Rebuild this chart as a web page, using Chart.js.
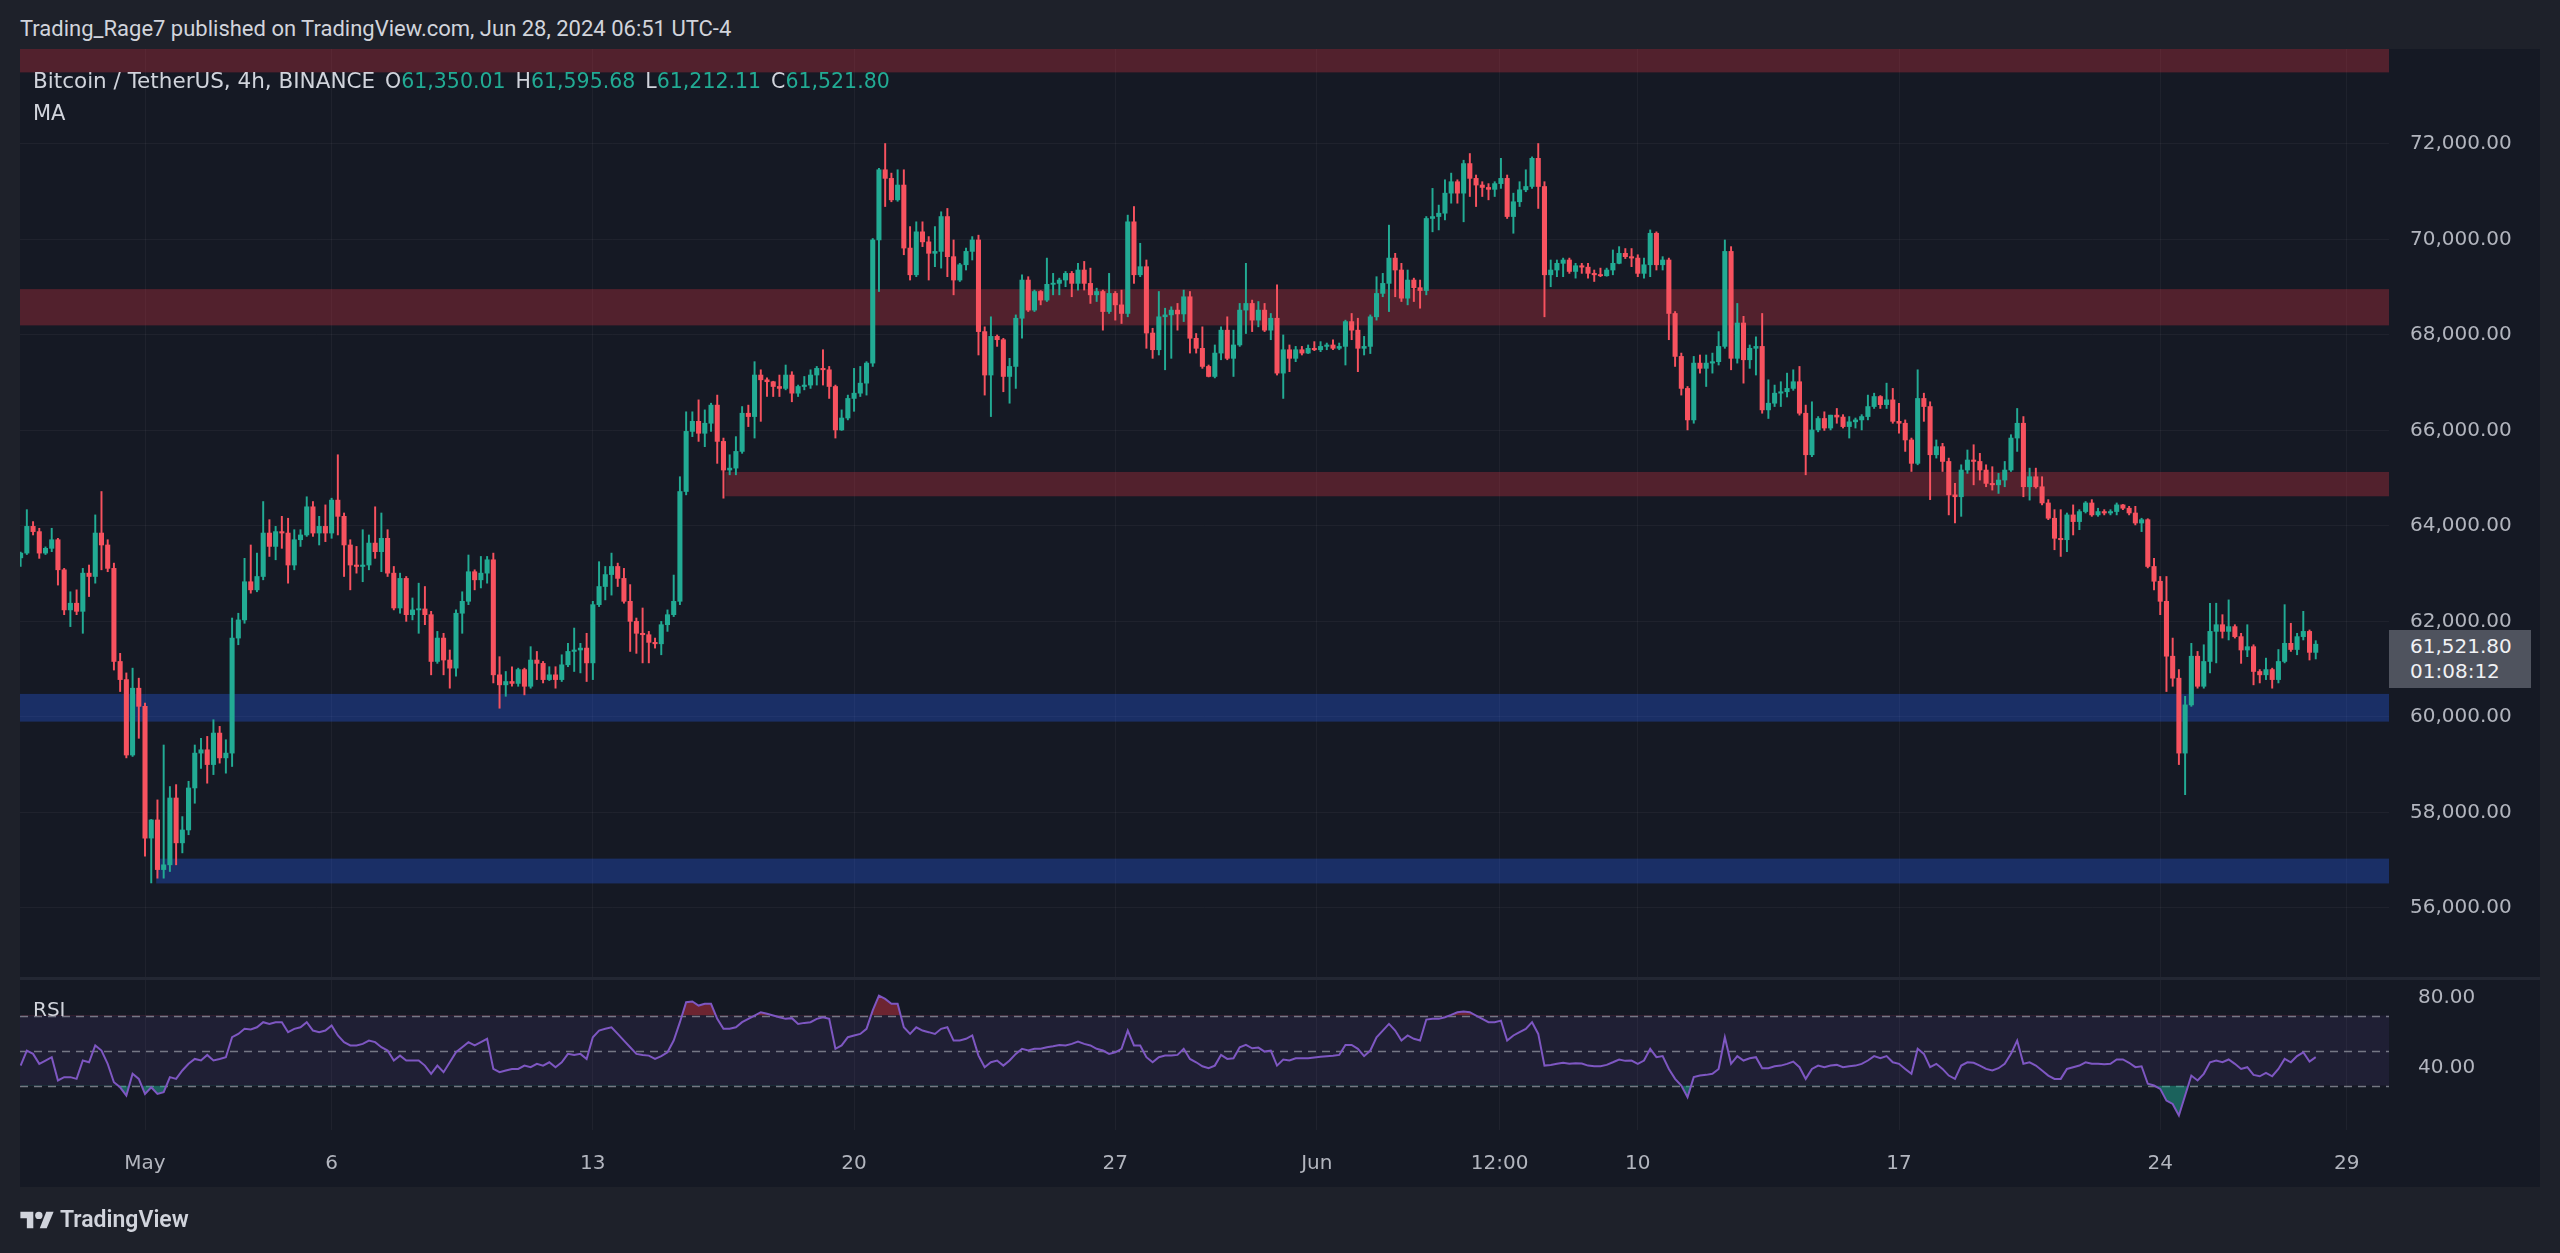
<!DOCTYPE html>
<html>
<head>
<meta charset="utf-8">
<title>Bitcoin / TetherUS 4h</title>
<script src="https://cdn.jsdelivr.net/npm/chart.js@4.4.1/dist/chart.umd.min.js"></script>
<style>
  html, body { margin: 0; padding: 0; }
  body { width: 2560px; height: 1253px; background: #1e212a; position: relative; overflow: hidden;
         font-family: Roboto, "Noto Sans", sans-serif; color: #d1d4dc; }
  #header { position: absolute; left: 20px; top: 15px; font-size: 22px; line-height: 28px; }
  #panel { position: absolute; left: 20px; top: 49px; width: 2520px; height: 1138px; background: #151924; }
  #sep { position: absolute; left: 20px; top: 977px; width: 2520px; height: 3px; background: #232733; }
  #priceWrap { position: absolute; left: 20px; top: 49px; width: 2520px; height: 928px; }
  #rsiWrap { position: absolute; left: 20px; top: 980px; width: 2520px; height: 206px; }
  .over { position: absolute; z-index: 3; white-space: pre; }
  #legend, #ma, #rsiLabel { font-family: "DejaVu Sans", sans-serif; }
  #legend { left: 33px; top: 68px; font-size: 21.5px; line-height: 26px; }
  #legend .k, #legend .v { font-size: 20.5px; }
  #legend .v { color: #22ab94; }
  #legend .k { margin-left: 10px; }
  #ma { left: 33px; top: 100px; font-size: 21px; line-height: 26px; }
  #rsiLabel { left: 33px; top: 997px; font-size: 20px; line-height: 24px; }
  #lastPrice { left: 2389px; top: 630px; width: 142px; height: 58px; background: #4f535e; color: #f0f1f4;
               font-family: "DejaVu Sans", sans-serif; font-size: 20px; line-height: 25px;
               box-sizing: border-box; padding: 4px 0 0 21px; }
  #logo { left: 20px; top: 1206px; font-size: 23px; line-height: 28px; font-weight: 600; display: flex; align-items: center; }
  #logo svg { margin-right: 6px; }
</style>
</head>
<body>
<div id="header" class="over">Trading_Rage7 published on TradingView.com, Jun 28, 2024 06:51 UTC-4</div>
<div id="panel"></div>
<div id="priceWrap"><canvas id="priceChart"></canvas></div>
<div id="sep"></div>
<div id="rsiWrap"><canvas id="rsiChart"></canvas></div>
<div id="legend" class="over">Bitcoin / TetherUS, 4h, BINANCE<span class="k">O</span><span class="v">61,350.01</span><span class="k">H</span><span class="v">61,595.68</span><span class="k">L</span><span class="v">61,212.11</span><span class="k">C</span><span class="v">61,521.80</span></div>
<div id="ma" class="over">MA</div>
<div id="rsiLabel" class="over">RSI</div>
<div id="lastPrice" class="over">61,521.80<br>01:08:12</div>
<div id="logo" class="over"><svg width="34" height="24" viewBox="0 0 36 26"><path d="M14 22H7V11H0V4h14z" fill="#d1d4dc"/><circle cx="20" cy="8" r="4" fill="#d1d4dc"/><path d="M28 4h8l-7.5 18H21z" fill="#d1d4dc"/></svg>TradingView</div>

<script>
// 4h candles, first one Apr 27 16:00 (time in days from May 1 00:00, UTC-4)
const firstCandleDay = -10 / 3;

const opens = [
  63330,63430,63990,63880,63430,63530,63710,63080,62240,62380,
  62210,63010,62940,63850,63600,63110,61160,60780,59200,60600,
  60220,57460,57840,56800,56900,58300,57360,57630,58510,59240,
  59310,59000,59660,59140,59240,61650,62030,62830,62660,62940,
  63850,63570,63880,63850,63180,63710,63810,64400,63850,63990,
  63850,64540,64200,63600,63180,63150,63180,63640,63460,63740,
  63010,62280,62900,62140,62240,62260,62140,61160,61650,61190,
  61020,62170,62420,63040,62870,63010,63290,60880,60670,60740,
  60700,60990,60640,61190,61120,60780,60880,60780,61090,61370,
  61400,61440,61130,62350,62730,62980,63150,62900,62420,62000,
  61750,61720,61560,61530,61930,62140,62420,64720,65980,66190,
  65940,66150,66530,65770,65170,65210,65560,66360,66290,67160,
  67060,67020,66920,66880,67160,66780,66920,66950,67160,67300,
  67270,66920,66010,66260,66670,66780,66990,67410,69990,71460,
  71280,70830,71140,69820,69260,70160,69950,69710,69750,70480,
  69640,69150,69470,69750,69990,68070,67160,67970,67900,67130,
  67340,68350,69150,68520,68910,68730,69060,69080,69150,69290,
  69080,69360,69080,68840,68910,68490,68870,68630,68450,70370,
  69260,69430,68040,67690,68380,68420,68520,68440,68800,67930,
  67720,67340,67130,67620,68100,67510,67790,68520,68660,68310,
  68520,68100,68350,67200,67690,67510,67690,67620,67720,67690,
  67760,67790,67720,67760,68280,68100,67720,67760,68380,68870,
  69080,69610,69360,68770,69150,68990,68930,70440,70480,70550,
  70970,71210,70970,71590,71280,71140,71090,71050,71170,71280,
  70480,70790,71040,71110,71700,71110,69260,69360,69500,69570,
  69330,69450,69420,69290,69260,69240,69360,69500,69710,69640,
  69610,69290,69470,70130,69470,69570,68450,67550,66880,66220,
  67410,67300,67410,67440,67760,69750,67510,68250,67480,67720,
  67760,66430,66570,66780,66810,66880,67020,66360,65490,66010,
  66250,66050,66320,66280,66080,66180,66220,66290,66500,66710,
  66540,66640,66190,66150,65800,65310,66670,66500,65490,65660,
  65350,64650,64610,65170,65380,65350,65170,64890,64860,64960,
  65170,65840,66150,64820,65030,64820,64480,64160,63740,63710,
  64230,64090,64300,64480,64230,64300,64270,64300,64440,64370,
  64270,64060,64130,63150,62840,62420,61270,60810,59240,60250,
  61270,60640,61160,61790,61930,61790,61890,61680,61400,61470,
  60950,60880,60990,60780,61160,61540,61410,61680,61790,61350.01
];

const highs = [
  63450,64340,64090,63950,63560,63950,63740,63110,62620,62660,
  63110,63180,64230,64720,63710,63220,61330,60920,61020,60810,
  60290,57850,58260,59410,58540,58580,57910,58650,59410,59550,
  59590,59940,59800,59520,62070,62170,63320,63600,63430,64510,
  64130,63990,64200,64160,63920,63920,64610,64510,64200,64440,
  64580,65490,64270,63710,63570,63920,63810,64400,64270,63920,
  63150,63010,62940,62490,62800,62730,62210,61790,61750,61400,
  62240,62620,63390,63080,63360,63360,63430,61260,60950,61050,
  61020,61020,61470,61370,61160,61050,61050,61300,61540,61860,
  61540,61750,62420,63250,63150,63430,63220,63110,62770,62070,
  62280,61790,61650,62000,62240,62970,65030,66390,66390,66640,
  66430,66570,66740,65840,65490,65870,66500,66530,67440,67270,
  67100,67030,67160,67370,67230,66950,67130,67270,67340,67690,
  67340,66950,66430,66740,67300,67340,67440,70020,71490,72010,
  71390,71460,71460,70270,70370,70370,70060,70270,70580,70650,
  69990,69500,69820,70060,70090,68170,68380,68000,67930,67510,
  68420,69260,69220,68940,68930,69610,69290,69190,69330,69330,
  69500,69540,69400,68980,68940,69290,68910,68940,70510,70690,
  69920,69570,68140,68910,68560,68590,68660,68940,68910,68030,
  68170,67370,67790,68170,68380,68100,68660,69500,68730,68700,
  68660,68450,69050,68000,67790,67760,67760,67790,67860,67860,
  67830,67900,67830,68310,68450,68350,67970,68420,69220,69290,
  70300,69710,69500,69360,69190,69150,70480,71070,70720,71250,
  71390,71250,71660,71800,71350,71210,71170,71210,71700,71350,
  70970,71210,71460,71730,72010,71210,69570,69570,69610,69610,
  69500,69500,69500,69360,69400,69400,69780,69850,69810,69810,
  69680,69610,70200,70160,69640,69610,68490,67620,66920,67550,
  67580,67580,67620,68070,69990,69850,68660,68390,67790,67960,
  68450,67060,66950,67020,67200,67270,67340,66530,66600,66290,
  66390,66320,66460,66330,66290,66260,66330,66740,66780,66730,
  66990,66880,66570,66220,65840,67270,66780,66600,65800,65730,
  65420,64890,65280,65590,65700,65520,65280,65240,65100,65350,
  65910,66460,66290,65210,65210,65030,64550,64340,64340,64270,
  64440,64340,64510,64550,64370,64340,64340,64480,64450,64410,
  64410,64160,64150,63320,62940,62940,61650,60990,60430,61540,
  61370,61510,62380,62380,62140,62450,61930,61750,61930,61510,
  60990,61230,61020,61410,62350,61960,61750,62210,61820,61595.68
];

const lows = [
  63150,63400,63810,63320,63400,63460,62760,62140,61890,62140,
  61750,62520,62800,63080,63040,60980,60530,59140,59170,59550,
  57080,56520,56620,56620,56760,56900,57150,57530,58190,58920,
  58610,58790,59030,58820,58960,61510,61960,62590,62620,62870,
  63360,63290,63530,62800,63080,63570,63780,63780,63600,63670,
  63740,63810,62940,62660,63010,62830,63080,63320,63040,62940,
  62240,62170,62000,62030,61750,61930,60880,61120,60880,60600,
  60850,61750,62350,62660,62700,62800,60710,60180,60430,60640,
  60640,60460,60600,60780,60710,60760,60600,60740,61050,60950,
  60920,60740,60780,62310,62450,62550,62730,62380,61370,61330,
  61130,61130,61440,61300,61790,62100,62350,64650,65870,65770,
  65660,65980,65310,64580,65070,65070,65520,66080,65840,66190,
  66710,66710,66710,66850,66600,66710,66850,66880,66950,66950,
  66670,65840,66000,66220,66400,66710,66740,67340,68910,70690,
  70790,70800,69680,69150,69220,69850,69150,69430,69400,69220,
  68840,69120,69360,69570,67580,66740,66290,67760,66810,66570,
  66880,67930,68490,68490,68630,68700,68840,68840,69010,68800,
  68940,68940,68660,68700,68100,68450,68310,68240,68380,69080,
  69220,67720,67510,67580,67270,67510,68100,68280,67620,67620,
  67300,67120,67100,67480,67480,67130,67760,68030,68070,68170,
  68070,67900,67160,66670,67230,67440,67580,67610,67670,67650,
  67690,67690,67690,67370,67900,67230,67580,67610,68310,68800,
  68490,68800,68700,68630,68700,68560,68840,70160,70200,70410,
  70760,70760,70370,70900,70690,70900,70830,70900,71070,70440,
  70130,70690,71000,71070,70650,68380,69010,69220,69220,69290,
  69190,69290,69190,69120,69220,69230,69260,69490,69600,69430,
  69220,69190,69220,69360,69360,67900,67340,66740,66010,66150,
  67200,66920,67200,67370,67720,67270,67410,66990,67300,67160,
  66360,66250,66500,66500,66700,66840,66320,65070,65450,65970,
  66000,66010,66150,66050,65840,66050,66010,66220,66460,66460,
  66460,66150,65940,65560,65140,65280,66190,64550,65420,65140,
  64230,64060,64200,65100,64860,64960,64820,64750,64680,64820,
  65140,65560,64610,64540,64790,64440,64130,63500,63360,63460,
  63810,63920,64270,64200,64200,64230,64230,64230,64340,64230,
  64020,63880,63120,62660,62140,60530,60640,59000,58370,60220,
  60600,60600,60920,61130,61650,61610,61650,61120,61260,60670,
  60710,60780,60600,60710,61130,61370,61300,61610,61190,61212.11
];

const closes = [
  63430,63990,63880,63430,63530,63710,63080,62240,62380,62210,
  63010,62940,63850,63600,63110,61160,60780,59200,60600,60220,
  57460,57840,56800,56900,58300,57360,57630,58510,59240,59310,
  59000,59660,59140,59240,61650,62030,62830,62660,62940,63850,
  63570,63880,63850,63180,63710,63810,64400,63850,63990,63850,
  64540,64200,63600,63180,63150,63180,63640,63460,63740,63010,
  62280,62900,62140,62240,62260,62140,61160,61650,61190,61020,
  62170,62420,63040,62870,63010,63290,60880,60670,60740,60700,
  60990,60640,61190,61120,60780,60880,60780,61090,61370,61400,
  61440,61130,62350,62730,62980,63150,62900,62420,62000,61750,
  61720,61560,61530,61930,62140,62420,64720,65980,66190,65940,
  66150,66530,65770,65170,65210,65560,66360,66290,67160,67060,
  67020,66920,66880,67160,66780,66920,66950,67160,67300,67270,
  66920,66010,66260,66670,66780,66990,67410,69990,71460,71280,
  70830,71140,69820,69260,70160,69950,69710,69750,70480,69640,
  69150,69470,69750,69990,68070,67160,67970,67900,67130,67340,
  68350,69150,68520,68910,68730,69060,69080,69150,69290,69080,
  69360,69080,68840,68910,68490,68870,68630,68450,70370,69260,
  69430,68040,67690,68380,68420,68520,68440,68800,67930,67720,
  67340,67130,67620,68100,67510,67790,68520,68660,68310,68520,
  68100,68350,67200,67690,67510,67690,67620,67720,67690,67760,
  67790,67720,67760,68280,68100,67720,67760,68380,68870,69080,
  69610,69360,68770,69150,68990,68930,70440,70480,70550,70970,
  71210,70970,71590,71280,71140,71090,71050,71170,71280,70480,
  70790,71040,71110,71700,71110,69260,69360,69500,69570,69330,
  69450,69420,69290,69260,69240,69360,69500,69710,69640,69610,
  69290,69470,70130,69470,69570,68450,67550,66880,66220,67410,
  67300,67410,67440,67760,69750,67510,68250,67480,67720,67760,
  66430,66570,66780,66810,66880,67020,66360,65490,66010,66250,
  66050,66320,66280,66080,66180,66220,66290,66500,66710,66540,
  66640,66190,66150,65800,65310,66670,66500,65490,65660,65350,
  64650,64610,65170,65380,65350,65170,64890,64860,64960,65170,
  65840,66150,64820,65030,64820,64480,64160,63740,63710,64230,
  64090,64300,64480,64230,64300,64270,64300,64440,64370,64270,
  64060,64130,63150,62840,62420,61270,60810,59240,60250,61270,
  60640,61160,61790,61930,61790,61890,61680,61400,61470,60950,
  60880,60990,60780,61160,61540,61410,61680,61790,61350,61521.80
];

const rsiValues = [
  41.4,50.0,48.1,42.4,44.3,46.2,32.9,34.8,34.8,33.8,
  44.3,43.3,52.9,50.0,42.4,31.9,29.0,24.3,36.7,33.8,
  25.2,29.0,25.2,26.2,34.8,33.8,38.6,42.4,45.2,44.3,
  47.5,44.3,45.2,46.2,57.6,59.5,62.4,62.0,63.3,66.2,
  65.2,66.2,66.2,60.5,62.4,63.3,66.2,61.4,60.5,61.4,
  64.3,58.6,54.8,52.9,52.9,53.8,55.7,54.8,51.9,50.0,
  44.3,47.1,44.3,44.3,44.3,41.4,36.7,41.4,37.6,43.3,
  49.0,51.9,54.8,52.9,54.8,56.7,39.5,37.6,38.6,39.5,
  39.5,41.4,40.5,42.4,41.4,43.3,40.5,43.3,48.1,47.5,
  48.1,45.2,57.6,61.4,62.4,63.3,59.5,55.7,51.9,48.1,
  47.5,47.1,45.2,46.8,49.0,55.7,66.2,77.6,78.0,75.7,
  76.7,76.7,68.1,62.4,62.4,63.3,66.2,68.1,70.0,71.9,
  71.0,70.0,69.0,68.1,68.5,65.2,65.8,66.2,68.1,69.0,
  68.1,51.0,52.9,57.6,58.6,59.5,62.4,72.9,81.4,79.5,
  76.7,76.7,63.3,59.5,63.3,61.4,60.5,59.5,62.4,63.3,
  55.7,55.7,56.7,58.6,47.1,40.5,43.3,44.3,41.4,44.3,
  48.1,51.0,50.0,51.0,51.0,51.9,52.5,53.2,52.9,53.8,
  55.1,53.8,52.9,51.0,50.0,48.1,49.0,51.0,61.4,52.9,
  52.9,46.2,43.3,46.2,47.1,47.1,47.5,51.0,45.2,43.3,
  41.0,39.9,41.4,47.5,45.2,45.6,51.9,53.2,51.3,51.7,
  49.4,50.0,41.4,44.9,44.3,45.6,45.6,45.6,46.0,46.4,
  46.8,47.0,47.5,53.2,53.2,51.0,46.8,50.0,57.6,61.4,
  65.2,61.4,55.7,58.6,56.7,55.7,67.7,68.1,68.1,69.0,
  70.4,71.9,72.3,71.9,70.0,68.1,66.2,66.2,67.1,55.7,
  58.6,60.5,62.4,66.2,59.5,41.4,41.8,42.4,43.0,42.4,
  42.8,42.6,41.4,41.0,41.0,41.8,43.3,44.9,44.1,44.3,
  42.4,44.3,51.0,46.2,46.8,39.5,33.8,30.0,23.3,34.8,
  35.7,36.1,36.7,39.5,57.6,42.4,46.8,44.3,45.6,46.2,
  39.9,39.9,41.0,41.4,42.4,43.7,40.5,33.8,39.5,41.4,
  40.5,41.4,41.8,40.5,41.0,41.4,42.4,44.3,46.8,45.6,
  46.8,43.3,42.4,39.5,36.7,51.0,48.1,40.5,42.4,39.5,
  35.7,33.8,41.4,43.3,43.0,41.4,39.5,38.6,39.9,42.4,
  48.1,55.7,42.4,43.3,41.4,38.6,35.7,33.8,33.8,39.5,
  40.5,41.4,43.3,42.4,42.4,42.2,42.4,44.9,44.9,43.0,
  40.5,41.0,31.0,30.0,28.1,21.4,19.5,12.9,24.3,35.7,
  32.9,36.7,43.3,44.3,43.3,44.9,42.4,39.5,40.5,36.1,
  35.3,37.2,35.3,39.5,45.2,43.3,46.8,49.0,43.7,46.2
];

// time axis labels (days from May 1)
const tickDays = [0, 5, 12, 19, 26, 31.4, 36.3, 40, 47, 54, 59];
const tickLabels = ['May', '6', '13', '20', '27', 'Jun', '12:00', '10', '17', '24', '29'];
const priceTicks = [56000, 58000, 60000, 62000, 64000, 66000, 68000, 70000, 72000];
const rsiTicks = [40, 80];
const rsiLevels = [70, 50, 30];

// drawn zones: price range and first day
const zoneLow   = [73500, 68200, 64620, 59900, 56510];
const zoneHigh  = [74200, 68960, 65130, 60480, 57030];
const zoneStart = [-4, -4, 15.55, -4, 0.3];
const zoneKind  = ['red', 'red', 'red', 'blue', 'blue'];

const xMin = -3.35, xMax = 60.13;
const up = '#22ab94', down = '#f7525f';
const tickFont = { family: '"DejaVu Sans", sans-serif', size: 20 };
const tickColor = '#b2b5be';
const gridColor = 'rgba(255,255,255,0.045)';

const candleDays = opens.map((_, i) => firstCandleDay + i / 6);
const candleColor = ctx => closes[ctx.dataIndex] >= opens[ctx.dataIndex] ? up : down;

// zones behind the candles
const zonesPlugin = {
  id: 'zones',
  beforeDatasetsDraw(chart) {
    const { ctx, chartArea: a, scales: { x, y } } = chart;
    ctx.save();
    ctx.beginPath();
    ctx.rect(a.left, a.top, a.width, a.height);
    ctx.clip();
    zoneLow.forEach((lo, i) => {
      const x0 = Math.max(a.left, x.getPixelForValue(zoneStart[i]));
      const yTop = y.getPixelForValue(zoneHigh[i]);
      const yBot = y.getPixelForValue(lo);
      ctx.fillStyle = zoneKind[i] === 'red' ? 'rgba(242,54,69,0.28)' : 'rgba(41,98,255,0.3)';
      ctx.fillRect(x0, yTop, a.right - x0, yBot - yTop);
    });
    ctx.restore();
  }
};

// RSI background band and dashed levels
const rsiBandPlugin = {
  id: 'rsiBand',
  beforeDatasetsDraw(chart) {
    const { ctx, chartArea: a, scales: { y } } = chart;
    const yHi = y.getPixelForValue(rsiLevels[0]);
    const yLo = y.getPixelForValue(rsiLevels[2]);
    ctx.save();
    ctx.fillStyle = 'rgba(126,87,194,0.1)';
    ctx.fillRect(a.left, yHi, a.width, yLo - yHi);
    ctx.strokeStyle = 'rgba(140,143,154,0.8)';
    ctx.lineWidth = 1.5;
    ctx.setLineDash([8, 6]);
    rsiLevels.forEach(v => {
      const yy = Math.round(y.getPixelForValue(v)) + 0.5;
      ctx.beginPath();
      ctx.moveTo(a.left, yy);
      ctx.lineTo(a.right, yy);
      ctx.stroke();
    });
    ctx.restore();
  }
};

// no extra room around the plot for tick labels
const noPad = s => { s.paddingTop = 0; s.paddingBottom = 0; s.paddingLeft = 0; s.paddingRight = 0; };

const xAxis = (showLabels) => ({
  type: 'linear',
  min: xMin,
  max: xMax,
  offset: false,
  border: { display: false },
  grid: { color: gridColor, drawTicks: false, offset: false },
  afterBuildTicks: s => { s.ticks = tickDays.map(v => ({ value: v })); },
  afterFit: s => { s.height = showLabels ? 56 : 0; noPad(s); },
  ticks: {
    display: showLabels,
    autoSkip: false,
    maxRotation: 0,
    padding: 22,
    color: tickColor,
    font: tickFont,
    callback: (v, i) => tickLabels[i]
  }
});

new Chart(document.getElementById('priceChart'), {
  type: 'bar',
  data: {
    datasets: [
      {
        label: 'wick',
        data: candleDays.map((d, i) => ({ x: d, y: [lows[i], highs[i]] })),
        backgroundColor: candleColor,
        barThickness: 1.3,
        grouped: false,
        order: 2
      },
      {
        label: 'body',
        data: candleDays.map((d, i) => ({ x: d, y: [opens[i], closes[i]] })),
        backgroundColor: candleColor,
        barThickness: 4.4,
        minBarLength: 1.2,
        grouped: false,
        order: 1
      }
    ]
  },
  options: {
    responsive: true,
    maintainAspectRatio: false,
    animation: false,
    devicePixelRatio: 1,
    layout: { padding: 0 },
    plugins: { legend: { display: false }, tooltip: { enabled: false } },
    scales: {
      x: xAxis(false),
      y: {
        position: 'right',
        min: 54550,
        max: 73990,
        border: { display: false },
        grid: { color: gridColor, drawTicks: false },
        afterBuildTicks: s => { s.ticks = priceTicks.map(v => ({ value: v })); },
        afterFit: s => { s.width = 151; noPad(s); },
        ticks: {
          padding: 21,
          color: tickColor,
          font: tickFont,
          callback: v => v.toLocaleString('en-US', { minimumFractionDigits: 2, maximumFractionDigits: 2 })
        }
      }
    }
  },
  plugins: [zonesPlugin]
});

const rsiPoints = candleDays.map((d, i) => ({ x: d, y: rsiValues[i] }));

new Chart(document.getElementById('rsiChart'), {
  type: 'line',
  data: {
    datasets: [
      {
        label: 'RSI',
        data: rsiPoints,
        borderColor: '#7e57c2',
        borderWidth: 2,
        pointRadius: 0,
        tension: 0,
        fill: { target: { value: 70 }, above: 'rgba(242,54,69,0.4)', below: 'transparent' }
      },
      {
        label: 'oversold',
        data: rsiPoints,
        borderWidth: 0,
        borderColor: 'transparent',
        pointRadius: 0,
        tension: 0,
        fill: { target: { value: 30 }, above: 'transparent', below: 'rgba(34,171,148,0.5)' }
      }
    ]
  },
  options: {
    responsive: true,
    maintainAspectRatio: false,
    animation: false,
    devicePixelRatio: 1,
    layout: { padding: 0 },
    plugins: { legend: { display: false }, tooltip: { enabled: false } },
    scales: {
      x: xAxis(true),
      y: {
        position: 'right',
        min: 4.6,
        max: 90.3,
        border: { display: false },
        grid: { display: false },
        afterBuildTicks: s => { s.ticks = rsiTicks.map(v => ({ value: v })); },
        afterFit: s => { s.width = 151; noPad(s); },
        ticks: {
          padding: 21,
          color: tickColor,
          font: tickFont,
          callback: v => v.toFixed(2)
        }
      }
    }
  },
  plugins: [rsiBandPlugin]
});
</script>
</body>
</html>
